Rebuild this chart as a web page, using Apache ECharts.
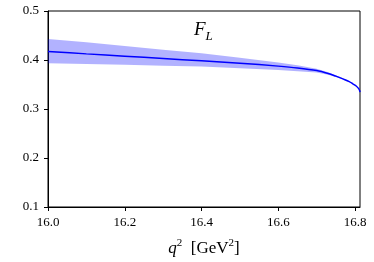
<!DOCTYPE html>
<html><head><meta charset="utf-8">
<script src="https://cdn.jsdelivr.net/npm/echarts@6/dist/echarts.min.js"></script>
<style>html,body{margin:0;padding:0;background:#fff}#c{width:374px;height:262px}</style>
</head><body><div id="c"></div><script>
// q^2 values (GeV^2)
const q2      = [16.0,  16.1,  16.2,   16.3,  16.4,   16.5,  16.6,  16.65, 16.7,   16.73, 16.75, 16.77, 16.785, 16.795, 16.803, 16.809, 16.812, 16.813];
const central = [0.4175,0.4125,0.4078, 0.403, 0.3983, 0.3935,0.3875,0.3838,0.3785, 0.3725,0.367, 0.361, 0.356,  0.351,  0.347,  0.342,  0.3376, 0.3345];
const upper   = [0.443, 0.436, 0.4285, 0.421, 0.4138, 0.4046,0.395, 0.3895,0.3822, 0.3752,0.3688,0.3621,0.3567, 0.3514, 0.3472, 0.3421, 0.3377, 0.3345];
const lower   = [0.3935,0.392, 0.3903, 0.3885,0.3868, 0.383, 0.3794,0.3768,0.3745, 0.3698,0.3652,0.3599,0.3553, 0.3506, 0.3468, 0.3419, 0.3375, 0.3345];
const xTicks = ['16.0','16.2','16.4','16.6','16.8'];
const yTicks = ['0.1','0.2','0.3','0.4','0.5'];

const FONT = 'Liberation Serif';
const chart = echarts.init(document.getElementById('c'), null, {renderer: 'canvas'});
const lineData = q2.map((x, i) => [x, central[i]]);

chart.setOption({
  animation: false,
  backgroundColor: '#fff',
  title: {
    text: '{f|F}{s|L}',
    left: 189, top: 15,
    textStyle: {
      fontWeight: 'normal',
      rich: {
        f: {fontFamily: FONT, fontStyle: 'italic', fontWeight: 'normal', fontSize: 19, color: '#000', verticalAlign: 'bottom', padding: [0, 0, 4, 0]},
        s: {fontFamily: FONT, fontStyle: 'italic', fontWeight: 'normal', fontSize: 13, color: '#000', verticalAlign: 'bottom'}
      }
    }
  },
  grid: {left: 48, right: 14, top: 11, bottom: 52, show: true, borderColor: '#000', borderWidth: 1, backgroundColor: 'transparent'},
  xAxis: {
    type: 'value', min: 16.0, max: 16.813, interval: 0.2,
    splitLine: {show: false},
    axisLine: {lineStyle: {color: '#000', width: 1}},
    axisTick: {inside: false, length: 4, lineStyle: {color: '#000'}},
    axisLabel: {
      color: '#000', fontFamily: FONT, fontSize: 13, margin: 9,
      showMaxLabel: false,
      formatter: v => { const s = v.toFixed(1); return xTicks.includes(s) && Math.abs(v - parseFloat(s)) < 1e-6 ? s : ''; }
    },
    name: '{i|q}{p|2}{r|  [GeV}{p|2}{r|]}',
    nameLocation: 'middle', nameGap: 31,
    nameTextStyle: {
      rich: {
        i: {fontFamily: FONT, fontStyle: 'italic', fontSize: 17, color: '#000', verticalAlign: 'bottom'},
        r: {fontFamily: FONT, fontSize: 17, color: '#000', verticalAlign: 'bottom'},
        p: {fontFamily: FONT, fontSize: 11, color: '#000', verticalAlign: 'bottom', padding: [0, 0, 8, 0]}
      }
    }
  },
  yAxis: {
    type: 'value', min: 0.1, max: 0.5, interval: 0.1,
    splitLine: {show: false},
    axisLine: {show: true, lineStyle: {color: '#000', width: 1}},
    axisTick: {show: true, inside: false, length: 4, lineStyle: {color: '#000'}},
    axisLabel: {
      color: '#000', fontFamily: FONT, fontSize: 13, margin: 9,
      formatter: v => { const s = v.toFixed(1); return yTicks.includes(s) ? s : ''; }
    }
  },
  series: [
    {
      type: 'custom', silent: true, z: 1,
      data: [[q2[0], central[0]]],
      renderItem: (params, api) => {
        const pts = [];
        for (let i = 0; i < q2.length; i++) pts.push(api.coord([q2[i], upper[i]]));
        for (let i = q2.length - 1; i >= 0; i--) pts.push(api.coord([q2[i], lower[i]]));
        return {type: 'polygon', shape: {points: pts}, style: {fill: 'rgba(0,0,255,0.3)', stroke: null}};
      }
    },
    {type: 'line', data: lineData, symbol: 'none', smooth: 0.3,
     lineStyle: {color: '#0000ff', width: 1.5}, z: 3}
  ]
});
</script></body></html>
